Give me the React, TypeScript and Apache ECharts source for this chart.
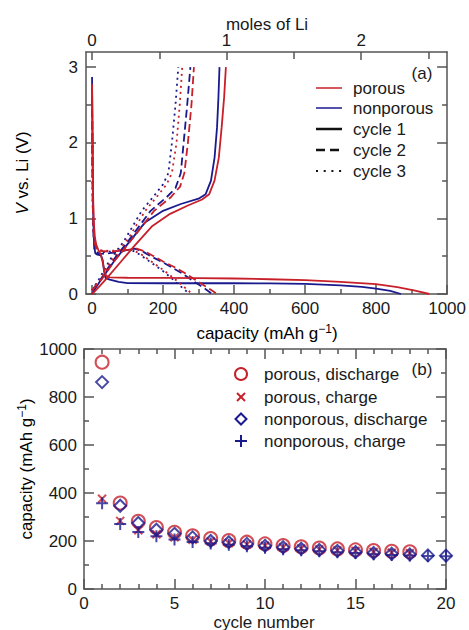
import React, { useEffect, useRef } from 'react';
import * as echarts from 'echarts';

const RED = '#c8202a';
const BLUE = '#1a1a8f';
const AX = '#555555';
const TXT = '#1a1a1a';
const FONT = "'Liberation Sans', Arial, Helvetica, sans-serif";
const FS = 17;

// ---------- Panel (a): voltage profiles, [capacity (mAh/g), V vs Li] ----------
const porousDischarge1 = [[0, 2.78], [1, 2.3], [2, 1.7], [3, 1.3], [5, 0.95], [8, 0.75], [12, 0.65], [18, 0.58], [25, 0.52], [30, 0.42], [35, 0.3], [40, 0.24], [50, 0.22], [100, 0.215], [200, 0.213], [300, 0.21], [400, 0.205], [500, 0.195], [600, 0.183], [700, 0.16], [800, 0.13], [860, 0.09], [910, 0.045], [950, 0]];
const nonporousDischarge1 = [[0, 2.87], [1, 2.3], [2, 1.6], [3, 1.2], [4, 0.9], [6, 0.65], [9, 0.54], [15, 0.52], [25, 0.51], [30, 0.45], [34, 0.3], [38, 0.21], [50, 0.19], [75, 0.16], [100, 0.145], [200, 0.142], [300, 0.142], [400, 0.142], [500, 0.14], [600, 0.133], [700, 0.114], [760, 0.095], [800, 0.07], [840, 0.04], [870, 0]];
const porousCharge1 = [[0, 0], [15, 0.07], [40, 0.2], [80, 0.42], [120, 0.64], [170, 0.9], [220, 1.06], [270, 1.17], [310, 1.25], [330, 1.32], [345, 1.5], [357, 1.8], [365, 2.2], [372, 2.6], [377, 3.0]];
const nonporousCharge1 = [[0, 0], [10, 0.08], [30, 0.22], [60, 0.42], [100, 0.66], [150, 0.95], [200, 1.1], [250, 1.19], [300, 1.26], [320, 1.32], [335, 1.5], [345, 1.8], [352, 2.2], [356, 2.6], [359, 3.0]];

const porousDischarge2 = [[0, 2.6], [1, 1.8], [2, 1.2], [4, 0.85], [7, 0.68], [12, 0.6], [20, 0.57], [50, 0.56], [80, 0.57], [110, 0.59], [125, 0.6], [145, 0.57], [170, 0.51], [200, 0.43], [230, 0.36], [260, 0.28], [290, 0.19], [320, 0.1], [340, 0.04], [352, 0]];
const nonporousDischarge2 = [[0, 2.6], [1, 1.8], [2, 1.2], [4, 0.8], [7, 0.6], [12, 0.54], [20, 0.53], [50, 0.54], [80, 0.56], [105, 0.59], [120, 0.6], [140, 0.57], [165, 0.5], [195, 0.43], [225, 0.35], [255, 0.27], [285, 0.17], [315, 0.08], [338, 0]];
const porousCharge2 = [[0, 0.05], [28, 0.2], [65, 0.45], [112, 0.72], [175, 1.1], [222, 1.28], [248, 1.42], [260, 1.6], [270, 2.0], [280, 2.5], [287, 3.0]];
const nonporousCharge2 = [[0, 0.05], [25, 0.2], [60, 0.45], [105, 0.72], [165, 1.1], [210, 1.28], [235, 1.4], [250, 1.6], [258, 2.0], [268, 2.5], [277, 3.0]];

const porousDischarge3 = [[0, 2.6], [1, 1.8], [2, 1.2], [4, 0.85], [7, 0.68], [12, 0.6], [20, 0.58], [50, 0.57], [80, 0.58], [100, 0.59], [115, 0.58], [140, 0.52], [170, 0.42], [200, 0.32], [230, 0.21], [255, 0.11], [270, 0.05], [282, 0]];
const nonporousDischarge3 = [[0, 2.6], [1, 1.8], [2, 1.2], [4, 0.8], [7, 0.6], [12, 0.55], [20, 0.55], [50, 0.56], [80, 0.57], [100, 0.58], [112, 0.58], [138, 0.51], [168, 0.41], [198, 0.31], [226, 0.2], [250, 0.1], [265, 0.04], [276, 0]];
const porousCharge3 = [[0, 0.05], [25, 0.2], [55, 0.45], [100, 0.72], [150, 1.1], [185, 1.3], [210, 1.45], [225, 1.6], [238, 2.0], [247, 2.5], [254, 3.0]];
const nonporousCharge3 = [[0, 0.05], [20, 0.2], [50, 0.45], [90, 0.7], [140, 1.1], [175, 1.3], [200, 1.45], [215, 1.6], [225, 2.0], [235, 2.5], [243, 3.0]];

const capMajorTicks = [0, 200, 400, 600, 800, 1000];
const capMinorTicks = [100, 300, 500, 700, 900];
const molesMajorTicks = [0, 1, 2];
const molesMinorTicks = [0.5, 1.5, 2.5];
const voltMajorTicks = [0, 1, 2, 3];
const voltMinorTicks = [0.5, 1.5, 2.5];
const MAH_PER_MOLE = 379;

// ---------- Panel (b): capacity vs cycle number ----------
const porousDischargeCap = [945, 358, 282, 256, 236, 222, 210, 202, 195, 188, 181, 176, 171, 167, 163, 160, 157, 155];
const porousChargeCap = [376, 284, 245, 228, 215, 205, 198, 192, 186, 180, 174, 169, 165, 161, 158, 154, 151, 149];
const nonporousDischargeCap = [862, 347, 275, 247, 230, 215, 200, 195, 188, 180, 174, 168, 163, 159, 154, 150, 147, 144, 140, 139];
const nonporousChargeCap = [357, 271, 238, 220, 206, 196, 190, 184, 178, 172, 166, 161, 157, 153, 150, 145, 142, 140, 137, 136];

const toPairs = (vals: number[]) => vals.map((v, i) => [i + 1, v]);

const lineStyle = { color: AX, width: 1.5 };
const plain = (v: number) => String(v);

function customAxis(gridIndex: number, position: string, min: number, max: number, ticks: number[], len: number, showLine: boolean, labels?: number[], margin?: number) {
  return {
    type: 'value', gridIndex, position, min, max,
    axisLine: { show: showLine, onZero: false, lineStyle },
    axisTick: { show: true, inside: true, length: len, customValues: ticks, lineStyle },
    axisLabel: labels
      ? { show: true, customValues: labels, margin, color: TXT, fontSize: FS, fontFamily: FONT, formatter: plain }
      : { show: false },
    splitLine: { show: false },
  };
}

function intervalAxis(gridIndex: number, position: string, min: number, max: number, interval: number, split: number, labels: boolean, margin: number) {
  return {
    type: 'value', gridIndex, position, min, max, interval,
    axisLine: { show: true, onZero: false, lineStyle },
    axisTick: { show: true, inside: true, length: 10, lineStyle },
    minorTick: { show: true, splitNumber: split, length: 5, lineStyle },
    axisLabel: labels ? { show: true, margin, color: TXT, fontSize: FS, fontFamily: FONT, formatter: plain } : { show: false },
    splitLine: { show: false },
  };
}

function curve(data: number[][], color: string, type: any) {
  return {
    type: 'line', xAxisIndex: 0, yAxisIndex: 0, data,
    showSymbol: false, symbol: 'none', clip: true,
    lineStyle: { color, width: 1.8, type },
  };
}

const DASH = [8, 4];
const DOT = [2, 4];

const CROSS = 'path://M0,0L10,10M10,0L0,10';
const PLUS = 'path://M5,0L5,10M0,5L10,5';

function txt(x: number, y: number, text: string, align = 'left', extra: any = {}) {
  return {
    type: 'text', x, y, ...extra,
    style: { text, fill: TXT, font: `${FS}px ${FONT}`, textAlign: align, textVerticalAlign: 'middle', ...(extra.style || {}) },
  };
}

export default function App() {
  const ref = useRef<HTMLDivElement>(null);
  useEffect(() => {
    if (!ref.current) return;
    document.body.style.margin = '0';
    const chart = echarts.init(ref.current, null, { renderer: 'svg' });

    const supRich = {
      n: { fontSize: FS, fontFamily: FONT, color: TXT },
      s: { fontSize: 12, fontFamily: FONT, color: TXT, padding: [0, 0, 9, 0] },
      i: { fontSize: FS, fontFamily: FONT, color: TXT, fontStyle: 'italic' },
    };

    const legendA = [
      { y: 88, color: RED, dash: 'solid', w: 1.5, label: 'porous' },
      { y: 108, color: BLUE, dash: 'solid', w: 1.5, label: 'nonporous' },
      { y: 129, color: '#111', dash: 'solid', w: 2.5, label: 'cycle 1' },
      { y: 150, color: '#111', dash: [9, 5], w: 2.5, label: 'cycle 2' },
      { y: 171, color: '#111', dash: [2, 5.7], w: 2, label: 'cycle 3' },
    ];
    const graphic: any[] = [];
    legendA.forEach((l) => {
      graphic.push({ type: 'line', shape: { x1: 316, y1: l.y, x2: 342, y2: l.y }, style: { stroke: l.color, lineWidth: l.w, lineDash: l.dash === 'solid' ? null : l.dash } });
      graphic.push(txt(353, l.y, l.label));
    });
    graphic.push(txt(422, 73, '(a)', 'center'));
    graphic.push(txt(422, 369, '(b)', 'center'));
    graphic.push(txt(267, 24, 'moles of Li', 'center'));
    graphic.push({ type: 'text', x: 267, y: 333, style: { text: '{n|capacity (mAh g}{s|−1}{n|)}', rich: supRich, textAlign: 'center', textVerticalAlign: 'middle' } });
    graphic.push(txt(264, 622, 'cycle number', 'center'));
    graphic.push({ type: 'text', x: 22, y: 173, rotation: Math.PI / 2, style: { text: '{i|V}{n| vs. Li (V)}', rich: supRich, textAlign: 'center', textVerticalAlign: 'middle' } });
    graphic.push({ type: 'text', x: 26, y: 469, rotation: Math.PI / 2, style: { text: '{n|capacity (mAh g}{s|−1}{n|)}', rich: supRich, textAlign: 'center', textVerticalAlign: 'middle' } });

    // legend (b)
    const lx = 241;
    graphic.push({ type: 'circle', shape: { cx: lx, cy: 374, r: 6 }, style: { fill: 'none', stroke: RED, lineWidth: 2 } });
    graphic.push(txt(264, 374, 'porous, discharge'));
    graphic.push({ type: 'line', shape: { x1: lx - 4, y1: 393, x2: lx + 4, y2: 401 }, style: { stroke: RED, lineWidth: 2 } });
    graphic.push({ type: 'line', shape: { x1: lx - 4, y1: 401, x2: lx + 4, y2: 393 }, style: { stroke: RED, lineWidth: 2 } });
    graphic.push(txt(264, 397, 'porous, charge'));
    graphic.push({ type: 'polygon', shape: { points: [[lx, 413.5], [lx + 5.5, 419], [lx, 424.5], [lx - 5.5, 419]] }, style: { fill: 'none', stroke: BLUE, lineWidth: 2 } });
    graphic.push(txt(264, 419, 'nonporous, discharge'));
    graphic.push({ type: 'line', shape: { x1: lx - 6, y1: 441, x2: lx + 6, y2: 441 }, style: { stroke: BLUE, lineWidth: 2 } });
    graphic.push({ type: 'line', shape: { x1: lx, y1: 435, x2: lx, y2: 447 }, style: { stroke: BLUE, lineWidth: 2 } });
    graphic.push(txt(264, 441, 'nonporous, charge'));

    const capMin = -17;
    const capMax = 1000;

    const option: any = {
      animation: false,
      backgroundColor: '#ffffff',
      textStyle: { fontFamily: FONT },
      grid: [
        { left: 86, top: 52, width: 362, height: 242 },
        { left: 84, top: 349, width: 362, height: 240 },
      ],
      xAxis: [
        customAxis(0, 'bottom', capMin, capMax, capMajorTicks, 9, true, capMajorTicks, 6),
        customAxis(0, 'bottom', capMin, capMax, capMinorTicks, 5, false),
        customAxis(0, 'top', capMin / MAH_PER_MOLE, capMax / MAH_PER_MOLE, molesMajorTicks, 8, true, molesMajorTicks, 3),
        customAxis(0, 'top', capMin / MAH_PER_MOLE, capMax / MAH_PER_MOLE, molesMinorTicks, 7, false),
        intervalAxis(1, 'bottom', 0, 20, 5, 5, true, 6),
        intervalAxis(1, 'top', 0, 20, 5, 5, false, 6),
      ],
      yAxis: [
        customAxis(0, 'left', 0, 3.2, voltMajorTicks, 10, true, voltMajorTicks, 8),
        customAxis(0, 'left', 0, 3.2, voltMinorTicks, 5, false),
        customAxis(0, 'right', 0, 3.2, voltMajorTicks, 10, true),
        customAxis(0, 'right', 0, 3.2, voltMinorTicks, 5, false),
        intervalAxis(1, 'left', 0, 1000, 200, 2, true, 7),
        intervalAxis(1, 'right', 0, 1000, 200, 2, false, 7),
      ],
      series: [
        curve(nonporousDischarge1, BLUE, 'solid'),
        curve(nonporousCharge1, BLUE, 'solid'),
        curve(nonporousDischarge2, BLUE, DASH),
        curve(nonporousCharge2, BLUE, DASH),
        curve(nonporousDischarge3, BLUE, DOT),
        curve(nonporousCharge3, BLUE, DOT),
        curve(porousDischarge1, RED, 'solid'),
        curve(porousCharge1, RED, 'solid'),
        curve(porousDischarge2, RED, DASH),
        curve(porousCharge2, RED, DASH),
        curve(porousDischarge3, RED, DOT),
        curve(porousCharge3, RED, DOT),
        {
          type: 'scatter', xAxisIndex: 4, yAxisIndex: 4, data: toPairs(porousDischargeCap),
          symbol: 'circle', symbolSize: 13,
          itemStyle: { color: 'rgba(0,0,0,0)', borderColor: RED, borderWidth: 2 },
        },
        {
          type: 'scatter', xAxisIndex: 4, yAxisIndex: 4, data: toPairs(porousChargeCap),
          symbol: CROSS, symbolSize: 8,
          itemStyle: { color: 'rgba(0,0,0,0)', borderColor: RED, borderWidth: 2 },
        },
        {
          type: 'scatter', xAxisIndex: 4, yAxisIndex: 4, data: toPairs(nonporousDischargeCap),
          symbol: 'diamond', symbolSize: 12,
          itemStyle: { color: 'rgba(0,0,0,0)', borderColor: BLUE, borderWidth: 2 },
        },
        {
          type: 'scatter', xAxisIndex: 4, yAxisIndex: 4, data: toPairs(nonporousChargeCap),
          symbol: PLUS, symbolSize: 12,
          itemStyle: { color: 'rgba(0,0,0,0)', borderColor: BLUE, borderWidth: 2 },
        },
      ],
      graphic,
    };
    chart.setOption(option);
    return () => chart.dispose();
  }, []);
  return <div ref={ref} style={{ position: 'fixed', left: 0, top: 0, width: 469, height: 630 }} />;
}
